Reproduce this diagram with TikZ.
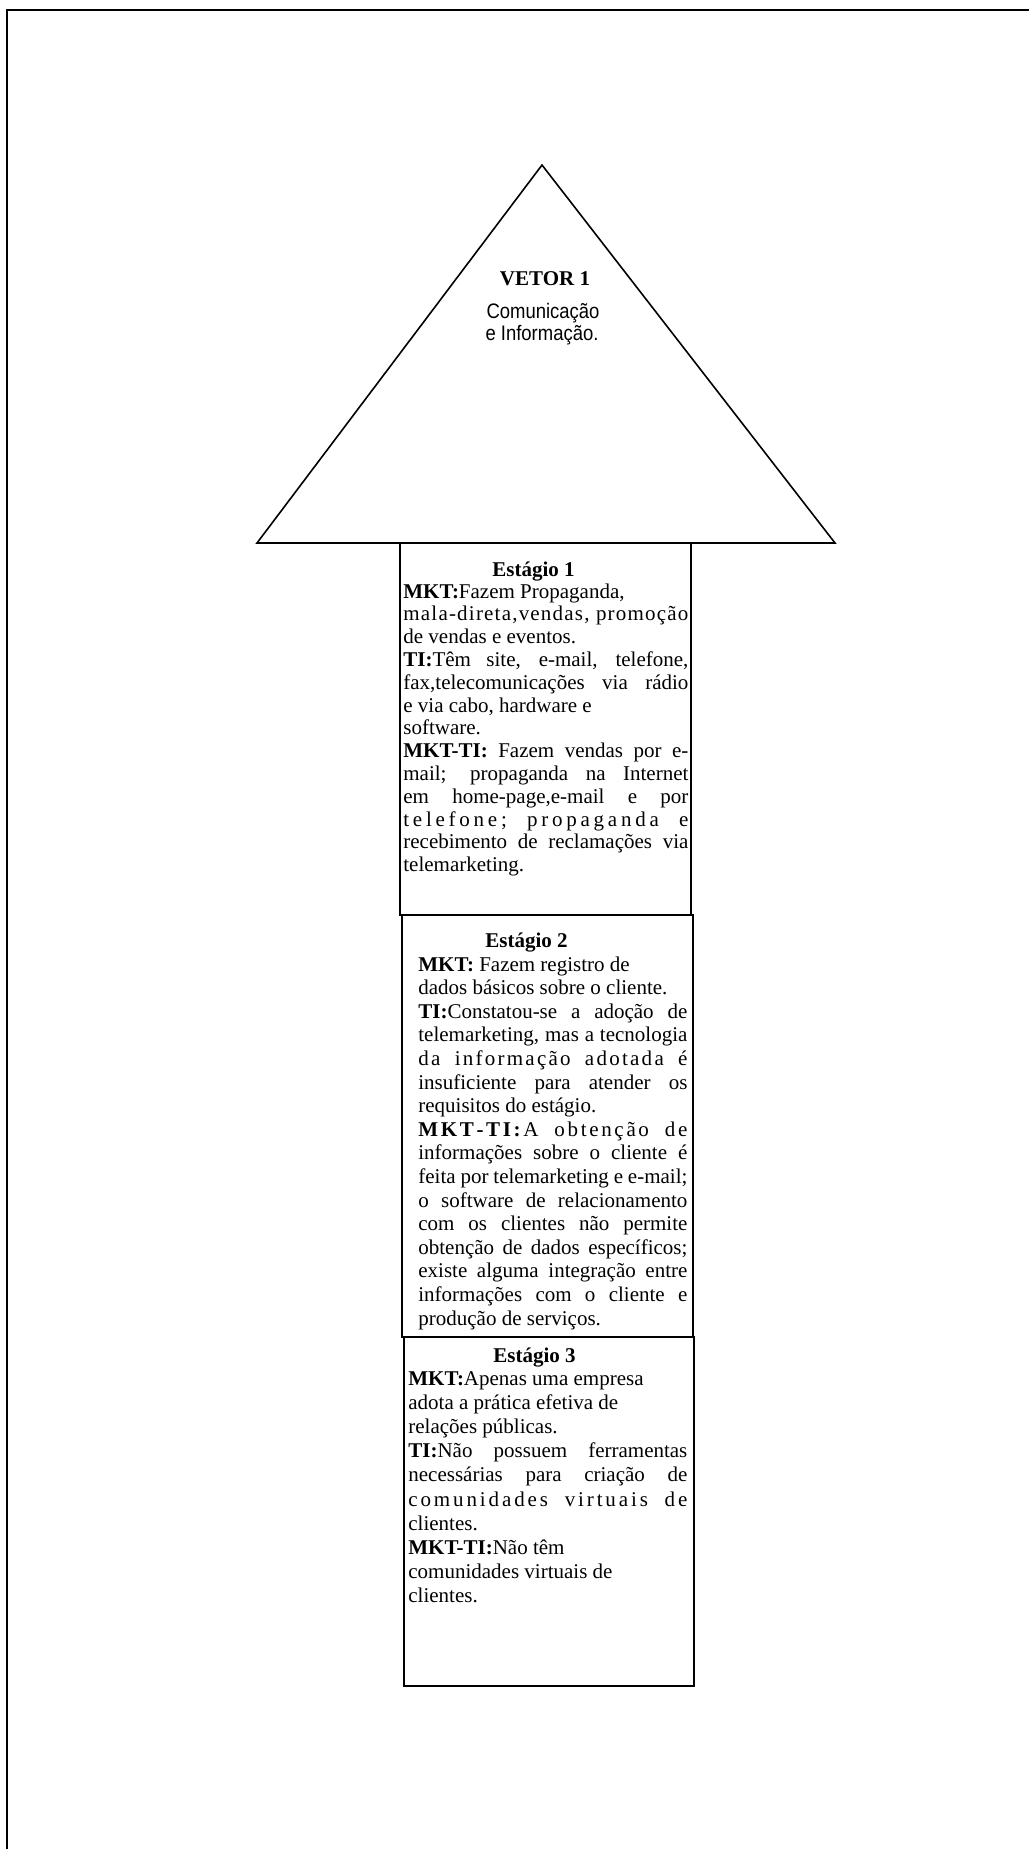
\documentclass[tikz,border=0pt]{standalone}
\usepackage{fontspec}
\setmainfont{Liberation Serif}
\newfontfamily\narrowsans[FakeStretch=0.88]{Liberation Sans}
\newcommand\JL[1]{\hbox to \hsize{#1}}
\newcommand\RL[1]{\hbox to \hsize{#1\hfil}}
\def\lsg{\hskip 0pt plus 1fil\relax}
\def\wg{\ \lsg\lsg\lsg\lsg}
\def\ws{\ \lsg}
\newcommand\stagetext[3]{\begin{minipage}[t]{#1}\fontsize{10.5pt}{#2}\selectfont\lineskiplimit=-100pt\lineskip=0pt\relax #3\end{minipage}}
\begin{document}
\begin{tikzpicture}[x=0.5pt,y=-0.5pt,
  frame/.style={line width=1.2pt},
  tri/.style={line width=0.8pt, line join=miter},
  stagebox/.style={line width=1pt},
  head/.style={anchor=base west, inner sep=0pt, font=\fontsize{10.5pt}{12pt}\selectfont\bfseries},
  body/.style={anchor=base west, inner sep=0pt},
  vtitle/.style={anchor=base, inner sep=0pt, font=\fontsize{10.5pt}{12pt}\selectfont\bfseries},
  vsub/.style={anchor=base, inner sep=0pt, font=\fontsize{10.5pt}{12pt}\selectfont\narrowsans}]
\useasboundingbox (0,0) rectangle (1029,1849);
\fill[white] (0,0) rectangle (1029,1849);
% page frame
\coordinate (ftr) at (1029,10);
\coordinate (ftl) at (7,10);
\coordinate (fbl) at (7,1849);
\draw[frame] (ftr) -- (ftl) -- (fbl);
% arrow head triangle
\coordinate (apex) at (542,165);
\coordinate (bl) at (257,543);
\coordinate (br) at (835,543);
\draw[tri] (apex) -- (br) -- (bl) -- cycle;
\node[vtitle] (vetor) at (545,285) {VETOR 1};
\node[vsub] (com) at (543,318) {Comunicação};
\node[vsub] (inf) at (542,340) {e Informação.};
% stage boxes
\coordinate (s1a) at (400,543); \coordinate (s1b) at (691,915);
\coordinate (s2a) at (402,915); \coordinate (s2b) at (693,1337);
\coordinate (s3a) at (404,1337); \coordinate (s3b) at (694,1686);
\draw[stagebox] (s1a) rectangle (s1b);
\draw[stagebox] (s2a) rectangle (s2b);
\draw[stagebox] (s3a) rectangle (s3b);
% stage 1
\node[head] (h1) at (492,576) {Estágio 1};
\node[body] (t1) at (403,598) {\stagetext{142.5pt}{11.4pt}{%
\RL{\textbf{MKT:}Fazem Propaganda,}
\JL{m\lsg a\lsg l\lsg a\lsg -\lsg d\lsg i\lsg r\lsg e\lsg t\lsg a\lsg ,\lsg v\lsg e\lsg n\lsg d\lsg a\lsg s\lsg ,\ws p\lsg r\lsg o\lsg m\lsg o\lsg ç\lsg ã\lsg o}
\RL{de vendas e eventos.}
\JL{\textbf{TI:}Têm site, e-mail, telefone,}
\JL{fax,telecomunicações via rádio}
\RL{e via cabo, hardware e}
\RL{software.}
\JL{\textbf{MKT-TI:} Fazem vendas por e-}
\JL{mail; propaganda na Internet}
\JL{em home-page,e-mail e por}
\JL{t\lsg e\lsg l\lsg e\lsg f\lsg o\lsg n\lsg e\lsg ;\wg p\lsg r\lsg o\lsg p\lsg a\lsg g\lsg a\lsg n\lsg d\lsg a\wg e}
\JL{recebimento de reclamações via}
\RL{telemarketing.}}};
% stage 2
\node[head] (h2) at (485,947) {Estágio 2};
\node[body] (t2) at (418,971) {\stagetext{134.5pt}{11.8pt}{%
\RL{\textbf{MKT:} Fazem registro de}
\RL{dados básicos sobre o cliente.}
\JL{\textbf{TI:}Constatou-se a adoção de}
\JL{telemarketing, mas a tecnologia}
\JL{d\lsg a\wg i\lsg n\lsg f\lsg o\lsg r\lsg m\lsg a\lsg ç\lsg ã\lsg o\wg a\lsg d\lsg o\lsg t\lsg a\lsg d\lsg a\wg é}
\JL{insuficiente para atender os}
\RL{requisitos do estágio.}
\JL{\textbf{M\lsg K\lsg T\lsg -\lsg T\lsg I\lsg :}\lsg A\wg o\lsg b\lsg t\lsg e\lsg n\lsg ç\lsg ã\lsg o\wg d\lsg e}
\JL{informações sobre o cliente é}
\JL{feita por telemarketing e e-mail;}
\JL{o software de relacionamento}
\JL{com os clientes não permite}
\JL{obtenção de dados específicos;}
\JL{existe alguma integração entre}
\JL{informações com o cliente e}
\RL{produção de serviços.}}};
% stage 3
\node[head] (h3) at (493,1362) {Estágio 3};
\node[body] (t3) at (408,1385) {\stagetext{139.5pt}{12.1pt}{%
\RL{\textbf{MKT:}Apenas uma empresa}
\RL{adota a prática efetiva de}
\RL{relações públicas.}
\JL{\textbf{TI:}Não possuem ferramentas}
\JL{necessárias para criação de}
\JL{c\lsg o\lsg m\lsg u\lsg n\lsg i\lsg d\lsg a\lsg d\lsg e\lsg s\wg v\lsg i\lsg r\lsg t\lsg u\lsg a\lsg i\lsg s\wg d\lsg e}
\RL{clientes.}
\RL{\textbf{MKT-TI:}Não têm}
\RL{comunidades virtuais de}
\RL{clientes.}}};
\end{tikzpicture}
\end{document}
